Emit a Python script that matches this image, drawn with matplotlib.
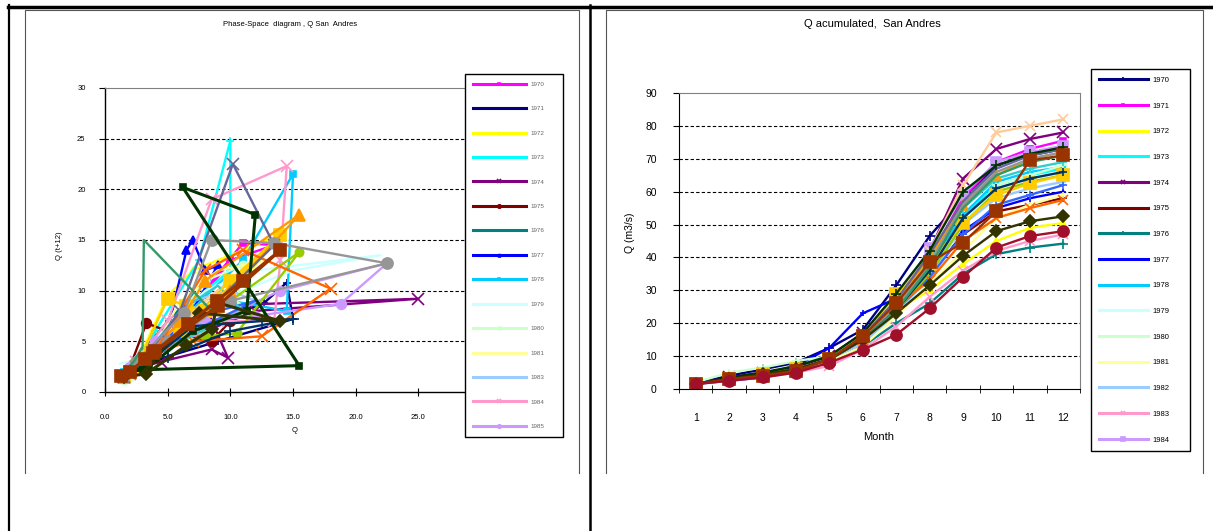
import matplotlib
matplotlib.use("Agg")
import matplotlib.pyplot as plt
from matplotlib.lines import Line2D

W, H = 1213, 531

# ---------------- phase-space data (Q, Q(t+12)) ----------------
ps_names = ["1970", "1971", "1972", "1973", "1974", "1975", "1976", "1977",
            "1978", "1979", "1980", "1981", "1983", "1984", "1985"]
ps_colors = ["#FF00FF", "#000080", "#FFFF00", "#00FFFF", "#800080", "#800000",
             "#008080", "#0000FF", "#00CCFF", "#CCFFFF", "#CCFFCC", "#FFFF99",
             "#99CCFF", "#FF99CC", "#CC99FF",
             "#FFCC99", "#3366FF", "#33CCCC", "#99CC00", "#FFCC00", "#FF9900",
             "#FF6600", "#666699", "#969696", "#003366", "#339966", "#003300",
             "#333300", "#993300"]
ps_markers = ["s", "+", "^", "+", "x", "o", "+", "^", "s", "", "o", "", "", "x", "o",
              "", "", "", "o", "s", "^", "x", "x", "o", "+", "", "s", "D", "s"]
ps_msize = [5, 6, 5, 6, 8, 7, 5, 6, 5, 0, 6, 0, 0, 8, 7,
            0, 0, 0, 6, 8, 8, 9, 8, 8, 8, 0, 4, 6, 9]

ps_x = [
    [1.4, 1.6, 2.2, 3.5, 6.0, 11.0, 13.5, 10.0, 7.0, 4.0, 2.5, 1.8],
    [1.5, 1.8, 2.5, 4.0, 8.0, 12.7, 14.5, 15.0, 9.0, 5.0, 3.0, 2.0],
    [1.3, 1.7, 2.5, 5.0, 7.0, 14.0, 9.0, 6.0, 4.0, 2.5, 1.8],
    [1.2, 1.5, 2.5, 4.0, 7.5, 10.0, 10.0, 8.0, 5.0, 3.0, 2.0],
    [1.5, 2.0, 3.0, 4.5, 8.5, 9.8, 8.0, 25.0, 12.0, 6.0, 3.0, 2.0],
    [1.5, 2.0, 3.3, 5.0, 8.5, 10.0, 7.0, 4.0, 2.5, 1.8],
    [1.5, 2.0, 3.0, 5.0, 7.0, 9.5, 6.0, 3.5, 2.2],
    [1.5, 2.0, 3.0, 5.0, 6.5, 7.0, 8.0, 9.0, 6.5, 4.0, 2.5],
    [1.5, 2.0, 3.5, 6.0, 11.0, 15.0, 14.5, 10.0, 5.0, 3.0],
    [1.2, 2.0, 4.0, 8.0, 12.0, 22.0, 15.0, 9.0, 5.0, 3.0],
    [1.5, 2.0, 3.0, 5.0, 8.0, 11.0, 10.5, 7.0, 4.0, 2.5],
    [1.5, 2.5, 4.0, 6.0, 9.0, 13.0, 10.0, 6.0, 3.0],
    [1.5, 2.0, 4.0, 7.0, 10.0, 12.0, 8.0, 4.0, 2.5],
    [1.5, 2.5, 5.0, 8.5, 14.5, 14.0, 13.5, 9.0, 5.0, 3.0],
    [1.3, 2.0, 4.0, 8.0, 12.0, 18.8, 22.5, 14.0, 7.0, 3.0],
    [2.0, 4.0, 7.0, 10.0, 12.0, 8.0, 4.0],
    [1.5, 3.0, 6.0, 9.0, 12.0, 7.0, 4.0],
    [2.0, 3.5, 6.0, 9.0, 11.0, 6.0, 3.0],
    [2.0, 4.0, 8.0, 10.5, 15.5, 10.0, 5.0, 3.0],
    [1.5, 2.5, 5.0, 6.5, 8.0, 14.0, 10.0, 6.0, 3.0],
    [1.5, 3.0, 6.0, 8.0, 15.5, 10.0, 5.0, 3.0],
    [2.0, 4.0, 7.0, 12.5, 18.0, 11.0, 8.0, 4.0, 2.0],
    [1.5, 3.0, 6.0, 10.2, 13.5, 9.0, 5.0, 2.5],
    [1.5, 2.5, 6.3, 8.5, 13.5, 22.5, 10.0, 5.0, 3.0],
    [1.5, 3.0, 7.0, 12.5, 15.0, 10.0, 5.0],
    [1.5, 2.3, 3.0, 3.1, 7.0, 8.5, 5.0, 2.5],
    [1.5, 2.0, 3.0, 15.5, 6.2, 12.0, 11.3, 7.0, 3.5, 2.0],
    [1.5, 3.3, 6.5, 8.5, 9.0, 14.0, 7.5, 3.5],
    [1.3, 2.0, 3.2, 3.8, 6.6, 8.9, 11.0, 14.0, 9.0, 4.0],
]
ps_y = [
    [1.5, 1.8, 2.5, 4.0, 7.0, 14.7, 14.5, 13.0, 8.0, 5.0, 3.0, 2.0],
    [1.4, 1.7, 2.2, 4.0, 6.5, 8.8, 10.8, 7.2, 5.0, 3.5, 2.5, 1.8],
    [1.2, 1.5, 2.8, 9.5, 12.0, 15.5, 8.0, 6.0, 4.0, 2.5, 1.8],
    [1.5, 2.0, 3.0, 6.0, 13.0, 24.8, 12.0, 10.0, 5.0, 3.0, 2.0],
    [1.5, 2.0, 2.5, 3.0, 4.2, 3.4, 8.5, 9.2, 8.0, 5.0, 3.0, 2.0],
    [1.6, 2.5, 6.8, 6.0, 5.0, 7.0, 6.0, 3.5, 2.2, 1.8],
    [1.8, 2.5, 4.0, 7.0, 9.5, 9.0, 6.0, 3.0, 2.2],
    [1.5, 2.0, 3.0, 6.0, 14.0, 15.0, 12.0, 12.5, 7.0, 4.0, 2.5],
    [2.0, 2.5, 4.0, 7.0, 13.0, 21.5, 8.0, 9.0, 5.0, 3.0],
    [2.8, 3.0, 5.0, 10.0, 12.0, 13.5, 12.0, 9.0, 5.0, 3.0],
    [1.2, 1.5, 2.0, 6.0, 11.0, 12.5, 8.5, 8.0, 4.0, 2.5],
    [1.5, 2.5, 4.5, 9.0, 12.0, 13.0, 10.0, 6.0, 3.0],
    [2.0, 3.0, 5.0, 9.0, 10.0, 9.0, 6.0, 4.0, 2.5],
    [1.5, 3.0, 7.0, 19.0, 22.3, 13.0, 7.0, 7.0, 5.0, 3.0],
    [1.5, 2.5, 5.0, 7.0, 7.5, 8.7, 12.7, 10.0, 6.0, 3.0],
    [2.0, 4.0, 8.0, 11.0, 13.0, 9.0, 4.0],
    [1.5, 3.0, 6.5, 8.0, 9.0, 6.0, 4.0],
    [2.0, 4.0, 8.0, 10.5, 8.0, 5.0, 3.0],
    [2.0, 4.0, 5.5, 5.8, 13.8, 9.0, 5.0, 3.0],
    [1.5, 2.5, 9.2, 8.5, 8.0, 15.5, 11.0, 6.0, 3.0],
    [1.5, 3.0, 7.0, 11.0, 17.5, 10.0, 5.0, 3.0],
    [1.8, 4.0, 5.0, 5.5, 10.2, 14.0, 12.0, 4.0, 2.0],
    [1.5, 3.0, 8.0, 22.5, 14.5, 9.0, 5.0, 2.5],
    [1.6, 3.0, 7.8, 15.0, 14.7, 12.7, 9.0, 5.0, 3.0],
    [1.5, 2.5, 6.5, 7.0, 7.2, 6.0, 3.5],
    [2.0, 3.0, 4.5, 15.0, 10.0, 8.0, 5.0, 2.5],
    [1.7, 2.0, 2.2, 2.6, 20.2, 17.5, 8.0, 6.0, 2.5, 2.0],
    [1.5, 1.8, 4.6, 6.2, 8.8, 7.0, 7.8, 3.0],
    [1.6, 2.0, 3.3, 3.8, 6.7, 9.0, 11.0, 14.0, 8.5, 4.0],
]

# ---------------- accumulated Q data ----------------
months = list(range(1, 13))
acc_names = ["1970", "1971", "1972", "1973", "1974", "1975", "1976", "1977",
             "1978", "1979", "1980", "1981", "1982", "1983", "1984"]
acc_colors = ["#000080", "#FF00FF", "#FFFF00", "#00FFFF", "#800080", "#800000",
              "#008080", "#0000FF", "#00CCFF", "#CCFFFF", "#CCFFCC", "#FFFF99",
              "#99CCFF", "#FF99CC", "#CC99FF",
              "#FFCC99", "#3366FF", "#33CCCC", "#99CC00", "#FFCC00", "#FF9900",
              "#FF6600", "#666699", "#969696", "#003366", "#339966", "#003300",
              "#333300", "#993300", "#A0102A"]
acc_markers = ["+", "s", "^", "x", "x", "+", "+", "+", "+", "", "+", "+", "+", "x", "s",
               "x", "+", "+", "", "s", "^", "x", "", "", "+", "", "+", "D", "s", "o"]
acc_msize = [7, 5, 4, 5, 8, 6, 7, 5, 5, 0, 6, 5, 5, 7, 7,
             7, 6, 6, 0, 9, 7, 7, 0, 0, 6, 0, 7, 6, 9, 8]
acc_q = [
    [1.8, 4.0, 6.0, 8.0, 12.5, 18.0, 31.5, 46.5, 58.0, 68.0, 71.0, 73.0],
    [1.5, 3.0, 4.5, 6.0, 9.0, 15.0, 27.0, 40.0, 58.0, 69.0, 73.0, 75.5],
    [1.5, 3.0, 4.5, 6.0, 9.0, 15.0, 24.0, 30.0, 38.0, 45.0, 49.0, 50.5],
    [1.5, 3.0, 4.5, 6.0, 9.0, 15.0, 25.0, 36.0, 52.0, 62.0, 65.0, 67.0],
    [1.5, 3.5, 5.0, 6.5, 10.0, 17.0, 28.0, 42.0, 64.0, 73.0, 76.0, 78.0],
    [1.5, 3.0, 4.0, 5.5, 8.5, 14.0, 24.0, 35.0, 47.0, 54.0, 56.0, 58.0],
    [1.5, 3.0, 4.5, 6.0, 8.5, 13.0, 20.0, 26.0, 35.0, 41.0, 43.0, 44.2],
    [1.5, 3.0, 4.5, 7.0, 12.5, 23.0, 27.5, 38.0, 48.0, 55.0, 58.0, 60.0],
    [1.5, 3.0, 4.5, 6.0, 9.0, 15.0, 25.0, 37.0, 53.0, 63.0, 66.0, 67.5],
    [1.5, 3.0, 4.5, 6.0, 9.0, 14.0, 22.0, 33.0, 50.0, 61.0, 64.0, 66.0],
    [2.0, 5.0, 6.5, 8.5, 10.0, 16.0, 25.0, 36.0, 50.0, 62.0, 65.0, 68.0],
    [1.5, 3.0, 4.5, 6.0, 8.5, 13.0, 22.0, 32.0, 42.0, 52.0, 56.0, 59.0],
    [1.5, 3.0, 4.5, 6.0, 9.0, 14.0, 23.0, 34.0, 50.0, 58.0, 61.0, 63.0],
    [1.5, 2.5, 3.5, 5.0, 7.0, 12.0, 19.0, 28.0, 36.0, 42.0, 45.0, 47.0],
    [1.5, 3.0, 4.5, 6.0, 9.0, 15.0, 26.0, 43.0, 59.0, 69.0, 72.0, 74.0],
    [1.5, 3.0, 4.5, 6.0, 9.0, 16.0, 28.0, 42.0, 62.0, 78.0, 80.0, 82.0],
    [1.5, 2.5, 3.5, 5.5, 9.0, 15.0, 24.0, 34.0, 47.0, 56.0, 59.0, 62.0],
    [1.5, 3.0, 4.5, 6.0, 9.0, 16.0, 27.0, 39.0, 55.0, 64.0, 67.0, 69.0],
    [1.5, 3.0, 4.5, 6.0, 9.0, 15.0, 24.0, 35.0, 50.0, 60.0, 63.0, 65.0],
    [1.5, 3.0, 4.5, 6.0, 9.0, 16.0, 29.0, 38.0, 50.5, 59.0, 62.5, 65.0],
    [1.5, 3.0, 4.5, 6.0, 9.0, 16.0, 27.0, 40.0, 56.0, 65.0, 70.0, 72.0],
    [1.5, 3.0, 4.5, 6.0, 9.0, 15.0, 25.0, 33.0, 45.0, 52.0, 55.0, 57.5],
    [1.5, 3.0, 4.5, 6.0, 9.0, 16.0, 27.0, 41.0, 57.0, 67.0, 71.0, 73.0],
    [1.5, 3.0, 4.5, 6.0, 9.0, 15.0, 25.0, 38.0, 56.0, 66.0, 70.0, 72.0],
    [1.5, 3.0, 4.5, 6.0, 9.0, 15.0, 24.0, 36.0, 52.0, 61.0, 64.0, 66.0],
    [1.5, 3.0, 4.5, 6.0, 9.0, 15.0, 24.0, 37.0, 55.0, 65.0, 69.0, 71.0],
    [1.5, 3.5, 5.0, 7.0, 10.0, 17.0, 29.0, 42.0, 60.0, 68.0, 71.5, 73.5],
    [1.5, 3.0, 4.5, 6.0, 9.0, 15.0, 23.0, 31.5, 40.5, 48.0, 51.0, 52.5],
    [1.5, 3.0, 4.0, 5.5, 9.0, 16.0, 26.0, 38.5, 44.5, 54.0, 69.5, 71.0],
    [1.5, 2.5, 3.5, 5.0, 8.0, 12.0, 16.5, 24.5, 34.0, 43.0, 46.5, 48.0],
]


def px_rect(x0, y0, x1, y1):
    return [x0 / W, 1 - y1 / H, (x1 - x0) / W, (y1 - y0) / H]


def fig_line(fig, xs, ys, color, lw):
    fig.add_artist(Line2D([x / W for x in xs], [1 - y / H for y in ys],
                          color=color, lw=lw, transform=fig.transFigure))


plt.rcParams['font.family'] = ['Liberation Sans', 'DejaVu Sans']
fig = plt.figure(figsize=(W / 100, H / 100), dpi=100)

# page / table lines
fig_line(fig, [8, 1213], [6.5, 6.5], "black", 2.5)
fig_line(fig, [8.5, 8.5], [5, 531], "black", 1.6)
fig_line(fig, [590, 590], [5, 531], "black", 1.8)
for x0, x1 in [(25, 579), (606, 1203)]:
    fig_line(fig, [x0, x0, x1, x1], [473, 9.5, 9.5, 473], "#555555", 0.8)

# ---------------- left chart ----------------
ax1 = fig.add_axes(px_rect(105, 88, 481, 392))
for i in range(len(ps_x)):
    lw = 2.2 if i in (26, 28, 27) else 1.7
    ax1.plot(ps_x[i], ps_y[i], color=ps_colors[i], lw=lw,
             marker=ps_markers[i] if ps_markers[i] else None,
             ms=ps_msize[i], mew=1.2,
             label=ps_names[i] if i < len(ps_names) else "_nolegend_")
ax1.set_xlim(0, 30)
ax1.set_ylim(0, 30)
ax1.set_xticks([0, 5, 10, 15, 20, 25, 30])
ax1.set_xticklabels(["0.0", "5.0", "10.0", "15.0", "20.0", "25.0", "30.0"])
ax1.set_yticks(range(0, 31, 5))
for v in range(5, 30, 5):
    ax1.axhline(v, color="black", lw=0.8, ls=(0, (3, 2)), zorder=0)
ax1.spines["right"].set_visible(False)
ax1.spines["top"].set_color("#808080")
ax1.spines["left"].set_linewidth(1.0)
ax1.spines["bottom"].set_linewidth(1.0)
ax1.tick_params(axis="y", direction="out", length=4, labelsize=5.5, pad=10)
ax1.tick_params(axis="x", direction="inout", length=6, labelsize=5.5, pad=13)
ax1.set_xlabel("Q", fontsize=5.5)
ax1.xaxis.set_label_coords(0.503, -0.115)
ax1.set_ylabel("Q (t+12)", fontsize=5.5)
ax1.yaxis.set_label_coords(-0.112, 0.48)
fig.text(290 / W, 1 - 25 / H, "Phase-Space  diagram , Q San  Andres",
         ha="center", va="center", fontsize=5.5)
leg1 = ax1.legend(loc="upper left", bbox_to_anchor=px_rect(465, 74, 563, 444),
                  bbox_transform=fig.transFigure, mode="expand", fontsize=4.5,
                  frameon=True, framealpha=1, fancybox=False, edgecolor="black",
                  borderaxespad=0, handlelength=8.5, handletextpad=0.8,
                  labelspacing=3.05, borderpad=1.2, markerscale=0.35,
                  labelcolor="#666666")
leg1.get_frame().set_linewidth(1.0)
leg1.set_zorder(10)
for ln in leg1.get_lines():
    ln.set_linewidth(2.2)

# ---------------- right chart ----------------
ax2 = fig.add_axes(px_rect(679, 93, 1080, 389))
for i in range(len(acc_q)):
    ax2.plot(months, acc_q[i], color=acc_colors[i], lw=1.7,
             marker=acc_markers[i] if acc_markers[i] else None,
             ms=acc_msize[i], mew=1.2,
             label=acc_names[i] if i < len(acc_names) else "_nolegend_")
ax2.set_xlim(0.5, 12.5)
ax2.set_ylim(0, 90)
ax2.set_xticks(months)
ax2.set_xticks([m + 0.5 for m in [0] + months], minor=True)
ax2.set_yticks(range(0, 91, 10))
for v in range(10, 90, 10):
    ax2.axhline(v, color="black", lw=0.8, ls=(0, (3, 2)), zorder=0)
ax2.spines["right"].set_color("#808080")
ax2.spines["top"].set_color("#808080")
ax2.tick_params(axis="x", which="major", length=0, labelsize=7.5, pad=17)
ax2.tick_params(axis="x", which="minor", direction="inout", length=6)
ax2.tick_params(axis="y", direction="out", length=4, labelsize=7.5, pad=12)
ax2.set_xlabel("Month", fontsize=8)
ax2.xaxis.set_label_coords(0.497, -0.145)
ax2.set_ylabel("Q (m3/s)", fontsize=7.5)
ax2.yaxis.set_label_coords(-0.11, 0.527)
fig.text(872 / W, 1 - 24 / H, "Q acumulated,  San Andres",
         ha="center", va="center", fontsize=8)
leg2 = ax2.legend(loc="upper left", bbox_to_anchor=px_rect(1091, 69, 1190, 453),
                  bbox_transform=fig.transFigure, mode="expand", fontsize=5.5,
                  frameon=True, framealpha=1, fancybox=False, edgecolor="black",
                  borderaxespad=0, handlelength=6.5, handletextpad=0.6,
                  labelspacing=2.4, borderpad=1.0, markerscale=0.35)
leg2.get_frame().set_linewidth(1.0)
for ln in leg2.get_lines():
    ln.set_linewidth(2.2)

fig.savefig("out.png", dpi=100)
